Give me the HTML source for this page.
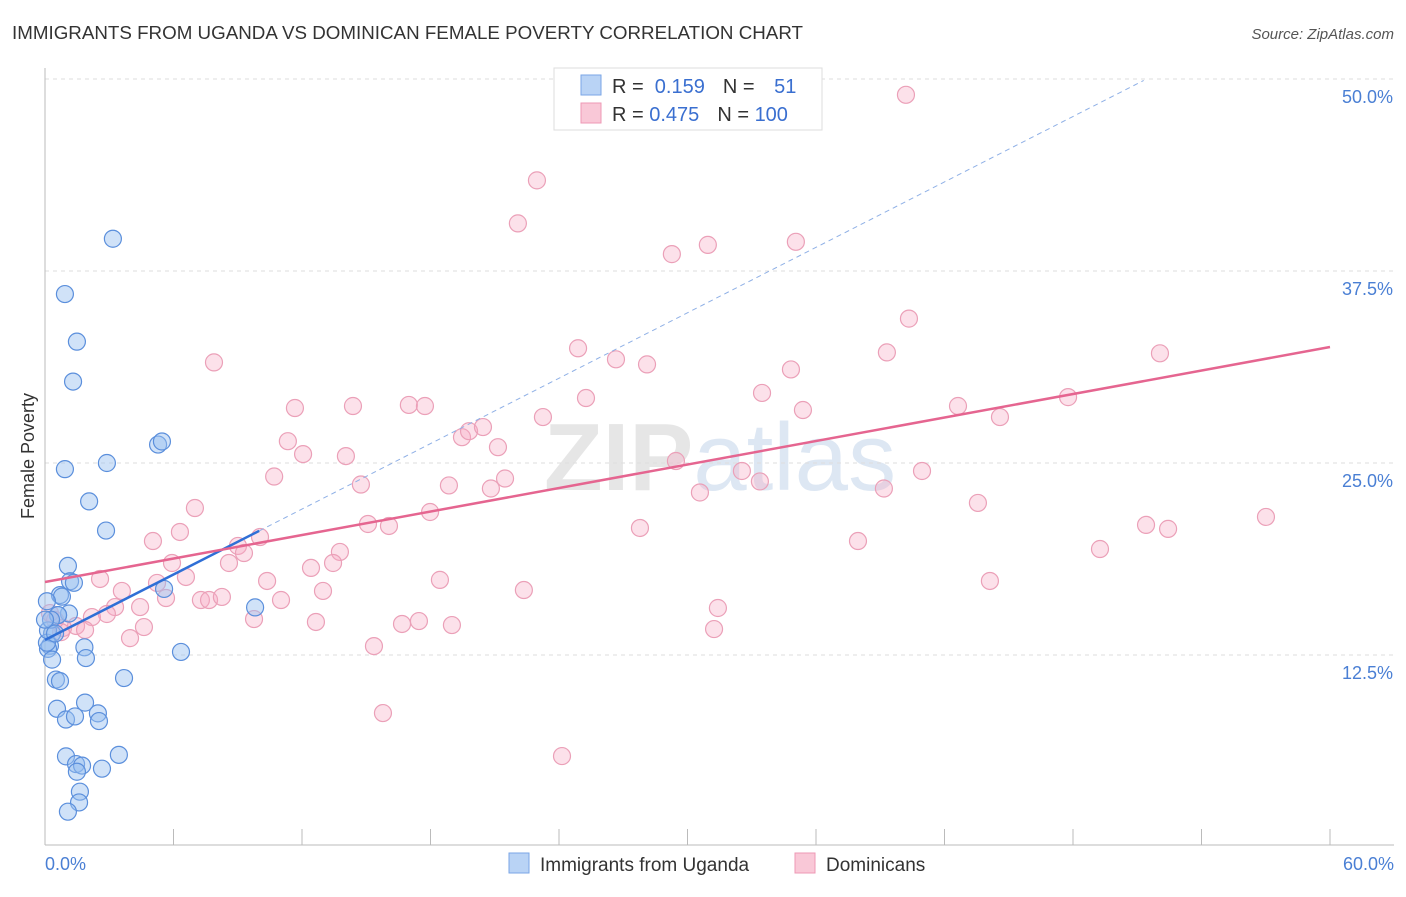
<!DOCTYPE html>
<html><head><meta charset="utf-8"><style>
body{margin:0;background:#fff;font-family:"Liberation Sans",sans-serif}
svg text{font-family:"Liberation Sans",sans-serif}
</style></head><body>
<svg id="chart" width="1406" height="892" xmlns="http://www.w3.org/2000/svg">
<text x="12" y="39" font-size="18" fill="#333" textLength="791" lengthAdjust="spacingAndGlyphs">IMMIGRANTS FROM UGANDA VS DOMINICAN FEMALE POVERTY CORRELATION CHART</text>
<text x="1394" y="39" font-size="15" fill="#555" text-anchor="end" font-style="italic">Source: ZipAtlas.com</text>
<text x="720" y="490" font-size="96" fill="#e6e6e6" text-anchor="middle" font-family="Liberation Serif" font-weight="bold">ZIP<tspan fill="#dde7f3" font-family="Liberation Sans" font-weight="normal">atlas</tspan></text>
<g id="grid"></g>
<g id="axes"></g>
<g id="pts"></g>
<g id="lines"></g>
<text transform="translate(34,456) rotate(-90)" font-size="18" fill="#333" text-anchor="middle">Female Poverty</text>
<text x="45" y="870" font-size="18" fill="#4a7fd4">0.0%</text>
<text x="1394" y="870" font-size="18" fill="#4a7fd4" text-anchor="end">60.0%</text>
<g>
<rect x="554" y="68" width="268" height="62" fill="#fff" stroke="#ddd"/>
<rect x="581" y="75" width="20" height="20" fill="#b9d3f5" stroke="#7aa6e6"/>
<rect x="581" y="103" width="20" height="20" fill="#f9c8d7" stroke="#ee98b4"/>
<text x="612" y="93" font-size="20" fill="#333">R = <tspan fill="#3a6fd0">&#160;0.159</tspan><tspan dx="18">N = </tspan><tspan fill="#3a6fd0" dx="14">51</tspan></text>
<text x="612" y="121" font-size="20" fill="#333">R = <tspan fill="#3a6fd0">0.475</tspan><tspan dx="18">N = </tspan><tspan fill="#3a6fd0">100</tspan></text>
</g>
<g>
<rect x="509" y="853" width="20" height="20" fill="#b9d3f5" stroke="#7aa6e6"/>
<text x="540" y="871" font-size="19" fill="#333">Immigrants from Uganda</text>
<rect x="795" y="853" width="20" height="20" fill="#f9c8d7" stroke="#ee98b4"/>
<text x="826" y="871" font-size="19" fill="#333">Dominicans</text>
</g>
</svg>
<script>
const yTicks=[12.5,25,37.5,50];
const yTickLabels=["12.5%","25.0%","37.5%","50.0%"];
const xTicks=[0,6,12,18,24,30,36,42,48,54,60];
const ugandaX=[3.17,0.93,1.49,1.31,0.93,2.89,2.06,2.85,5.28,5.46,1.07,1.17,1.35,0.70,0.79,1.12,0.61,0.09,0.33,0.23,0.14,0.33,1.84,1.91,0.51,0.70,3.69,6.35,9.81,5.56,1.87,0.56,0.98,1.40,2.47,2.52,0.98,1.45,1.73,1.49,3.45,2.66,1.63,1.59,1.07,0.09,0.14,0.61,0.28,0.47,0.00];
const ugandaY=[39.6,36.0,32.9,30.3,24.6,25.0,22.5,20.6,26.2,26.4,18.3,17.3,17.2,16.4,16.3,15.2,15.1,16.0,13.9,13.1,12.9,12.2,13.0,12.3,10.9,10.8,11.0,12.7,15.6,16.8,9.4,9.0,8.3,8.5,8.7,8.2,5.9,5.4,5.3,4.9,6.0,5.1,3.6,2.9,2.3,13.3,14.1,15.1,14.8,13.9,14.8];
const domX=[40.2,22.97,22.08,29.27,30.95,35.06,7.89,24.89,26.66,28.11,34.83,40.34,39.31,52.06,11.67,14.38,16.99,17.74,25.26,23.25,33.48,35.39,42.63,44.59,47.77,11.34,12.05,14.05,19.47,19.80,20.45,21.15,14.75,10.70,18.86,20.82,21.48,29.46,32.54,33.38,30.58,39.17,40.95,43.56,7.00,6.30,5.04,15.08,16.06,17.98,27.78,37.96,51.41,52.44,57.01,49.26,10.04,9.01,9.29,8.59,5.93,13.77,12.42,13.45,2.57,5.23,6.58,10.37,12.98,18.44,22.36,44.12,3.59,5.65,7.28,7.66,8.26,11.02,9.76,12.65,4.44,3.27,2.89,2.19,1.45,1.87,0.84,0.23,0.75,3.97,4.62,16.67,17.46,19.00,31.42,31.24,15.36,15.78,24.14,0.47];
const domY=[48.97,43.4,40.6,38.6,39.2,39.4,31.55,32.47,31.75,31.42,31.09,34.4,32.2,32.14,28.58,28.71,28.78,28.71,29.23,27.99,29.56,28.45,28.71,27.99,29.29,26.42,25.58,25.45,26.68,27.07,27.34,26.03,23.6,24.12,23.54,23.34,23.99,25.13,24.48,23.8,23.08,23.34,24.48,22.4,22.07,20.51,19.92,21.03,20.9,21.81,20.77,19.92,20.97,20.71,21.49,19.4,20.18,19.6,19.14,18.49,18.49,19.21,18.17,18.49,17.45,17.19,17.58,17.32,16.67,17.39,16.73,17.32,16.67,16.21,16.08,16.08,16.28,16.08,14.84,14.65,15.62,15.62,15.17,14.97,14.39,14.13,14.26,15.23,13.99,13.6,14.32,14.52,14.71,14.45,15.56,14.19,13.08,8.72,5.92,14.78];
const ugandaLine=[13.48,0.71]; // intercept, slope
const domLine=[17.25,0.255];
const NS='http://www.w3.org/2000/svg';
const X0=45,X1=1330,Y0=847,YPX=192/12.5;
const sx=v=>X0+(v/60)*(X1-X0), sy=v=>Y0-v*YPX;
function mk(tag,attrs,parent){const e=document.createElementNS(NS,tag);for(const k in attrs)e.setAttribute(k,attrs[k]);document.getElementById(parent).appendChild(e);return e;}
yTicks.forEach((t,i)=>{
 const g=mk('line',{x1:45,x2:1394,y1:sy(t),y2:sy(t),stroke:'#dedede','stroke-dasharray':'4,4'},'grid');
 
 
 const l=mk('text',{x:1393,y:sy(t)+24,'font-size':18,fill:'#4a7fd4','text-anchor':'end'},'grid');
 l.textContent=yTickLabels[i];
 
 
});
const ax=mk('line',{x1:45,x2:45,y1:68,y2:845,stroke:'#bbb'},'axes');


const bx=mk('line',{x1:45,x2:1394,y1:845,y2:845,stroke:'#bbb'},'axes');


xTicks.forEach(t=>{const e=mk('line',{x1:sx(t),x2:sx(t),y1:829,y2:845,stroke:'#bbb'},'axes');
 
 });
domX.forEach((x,i)=>{const c=mk('circle',{cx:sx(x),cy:sy(domY[i]),r:8.5,fill:'rgba(245,170,195,0.35)',stroke:'#eba0b8','stroke-width':1.2},'pts');
 
 });
ugandaX.forEach((x,i)=>{const c=mk('circle',{cx:sx(x),cy:sy(ugandaY[i]),r:8.5,fill:'rgba(150,190,240,0.45)',stroke:'#5b8fdc','stroke-width':1.2},'pts');
 
 });
const d1=mk('line',{x1:sx(10),y1:sy(ugandaLine[0]+ugandaLine[1]*10),x2:sx(51.3),y2:sy(ugandaLine[0]+ugandaLine[1]*51.3),stroke:'#8fb0e6','stroke-dasharray':'5,4','stroke-width':1},'lines');


const l1=mk('line',{x1:sx(0),y1:sy(ugandaLine[0]),x2:sx(10),y2:sy(ugandaLine[0]+ugandaLine[1]*10),stroke:'#2f6fd6','stroke-width':2.5},'lines');


const l2=mk('line',{x1:sx(0),y1:sy(domLine[0]),x2:sx(60),y2:sy(domLine[0]+domLine[1]*60),stroke:'#e56590','stroke-width':2.5},'lines');


</script>
</body></html>
